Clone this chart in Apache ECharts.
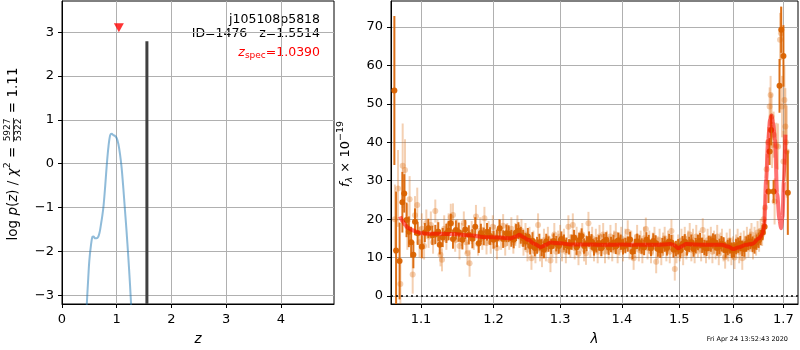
<!DOCTYPE html>
<html><head><meta charset="utf-8">
<script src="https://cdn.jsdelivr.net/npm/echarts@6/dist/echarts.min.js"></script>
<style>html,body{margin:0;padding:0;background:#fff}#c{width:800px;height:350px}</style>
</head><body><div id="c"></div>
<script>
// ---------- Left panel: log p(z) ----------
const pzZ   = [0.30,0.40,0.45,0.48,0.50,0.53,0.555,0.58,0.60,0.63,0.665,0.69,0.71,0.735,0.76,0.79,0.82,0.85,0.88,0.91,0.94,0.97,1.00,1.03,1.06,1.09,1.12,1.15,1.18,1.21,1.24,1.27,1.30,1.40];
const pzLog = [-7.0,-5.0,-3.3,-2.6,-2.2,-1.85,-1.67,-1.66,-1.70,-1.70,-1.66,-1.55,-1.40,-1.20,-0.95,-0.50,0.00,0.40,0.65,0.68,0.65,0.63,0.58,0.45,0.22,-0.10,-0.55,-1.05,-1.55,-2.10,-2.70,-3.40,-4.20,-7.0];
const zBest = 1.5514, zBestTop = 2.79;
const zSpec = 1.0390, zSpecMarkY = 3.10;
const zTicks = [0,1,2,3,4];
const pzTicks = [-3,-2,-1,0,1,2,3];

// ---------- Right panel: spectrum ----------
const lamLight = [1.066,1.070,1.073,1.076,1.079,1.082,1.085,1.089,1.092,1.095,1.098,1.101,1.104,1.107,1.110,1.113,1.116,1.119,1.122,1.126,1.128,1.131,1.134,1.137,1.140,1.143,1.146,1.149,1.152,1.155,1.158,1.161,1.163,1.166,1.169,1.172,1.175,1.178,1.181,1.184,1.187,1.190,1.193,1.196,1.199,1.202,1.205,1.208,1.211,1.214,1.217,1.220,1.223,1.226,1.229,1.232,1.235,1.238,1.241,1.244,1.247,1.250,1.253,1.256,1.259,1.262,1.266,1.269,1.272,1.275,1.278,1.281,1.285,1.288,1.291,1.294,1.297,1.300,1.303,1.306,1.309,1.313,1.316,1.320,1.323,1.326,1.329,1.332,1.335,1.338,1.341,1.345,1.348,1.351,1.354,1.357,1.360,1.363,1.366,1.369,1.372,1.375,1.378,1.381,1.384,1.387,1.390,1.393,1.396,1.399,1.402,1.406,1.410,1.413,1.416,1.420,1.423,1.426,1.429,1.432,1.435,1.438,1.441,1.444,1.447,1.450,1.453,1.456,1.459,1.462,1.465,1.468,1.471,1.474,1.477,1.480,1.483,1.486,1.489,1.492,1.495,1.498,1.501,1.504,1.507,1.510,1.513,1.516,1.519,1.522,1.525,1.528,1.531,1.534,1.537,1.540,1.543,1.546,1.549,1.552,1.555,1.558,1.561,1.564,1.567,1.570,1.573,1.576,1.579,1.582,1.585,1.588,1.591,1.594,1.597,1.600,1.603,1.606,1.609,1.612,1.615,1.618,1.621,1.624,1.627,1.630,1.633,1.636,1.639,1.642,1.645,1.648,1.651,1.654,1.657,1.660,1.663,1.666,1.669,1.672,1.674,1.676,1.677,1.680,1.682,1.6855,1.689,1.693,1.695,1.697,1.700,1.702,1.704,1.705,1.707];
const fluxLight = [20,28,3.1,33.9,32.8,18,25.2,5.6,21,23.7,14,17.5,13,19,15.5,18.5,14,22.1,16.8,10.7,9.4,17.5,15,18.5,20.5,21.1,14.5,17,13,16,19,14,11.1,8.5,16.5,15,20.7,13.5,17,15,20.2,13.8,16.5,14,18,15.5,12.5,17,15,18.3,13.5,16,15,17.5,14,16,18,15.5,17,13.5,16,12,15,9.8,14,11.5,18.5,12,10.5,14.5,12,15,9.2,13,16,11.5,14,15.5,12,14.5,11.5,18,13,18.5,12.5,15,11,14,16,12,11.1,18.9,13,15,12,14.5,11.5,15.5,13,16,11.5,14,12.5,15.5,12,14,16,11.5,13.5,15,12,14.5,16.7,12.5,14,9.8,13,15.5,12,14,11.5,15,17.4,12.5,14,11.5,13.5,15,8.9,12.5,14.5,11,13.5,15,12,14,11.5,16.9,13,7,11.5,13,12,14.5,11,15,12.5,14,16,12,14.5,11.5,15.5,13,14,12,17.2,13,11.5,14.5,12.5,15,11.5,14,12.5,15.5,11,13.5,14.5,12,10.1,13.5,12,14.5,11,12.5,10,13,14.5,11.5,13.5,9.8,14,12.5,15,13,14.5,16,12.5,15,13.5,16.5,14.5,17,16,20,23,33,40,49.3,52.3,46.7,39.3,42,24.6,39.1,38.9,66.7,68.4,49.3,35,51,44.1,40,37.6];
const errLight = [9,10,6,11,8,6,6,5,5,4.5,4,4,3.5,3.5,3,3.5,3,3,3,3,3,3.5,3,3,3.5,3,3,3,3.5,3,3,3,3,3.5,3,3,3,3,3.5,3,3,3,3,3,3,3,3,3,3,3,3,3,3,3,3,3,3,3,3,3,3,3,3,3,3,3,3,3,3,3,3,3,3,3,3,3,3,3,3,3,3,3,3,3,3,3,3,3,3,3,3,3,3,3,3,3,3,3,3,3,3,3,3,3,3,3,3,3,3,3,3,3,3,3,3,3,3,3,3,3,3,3,3,3,3,3,3,3,3,3,3,3,3,3,3,3,3,3,3,3,3,3,3,3,3,3,3,3,3,3,3,3,3,3,3,3,3,3,3,3,3,3,3,3,3,3,3,3,3,3,3,3,3,3,3,3,3,3,3,3,3,3,3,3,3,3,3,3,3,3,3,3,3,3,3,3,3.5,4,4,5,5,6,6,6,6,6,6,7,7,8,8,9,10,10,12,38,12];

const lamDark = [1.0653,1.0675,1.0720,1.0756,1.0780,1.0810,1.0840,1.0870,1.0899,1.0920,1.0955,1.1010,1.1050,1.1097,1.1150,1.1230,1.1250,1.1340,1.1400,1.1470,1.1560,1.1650,1.1740,1.1790,1.1860,1.1907,1.2000,1.2090,1.2188,1.2260,1.2330,1.2400,1.2470,1.2540,1.2610,1.2680,1.2750,1.2820,1.2900,1.2980,1.3060,1.3140,1.3220,1.3300,1.3380,1.3460,1.3540,1.3620,1.3700,1.3780,1.3860,1.3940,1.4020,1.4100,1.4180,1.4260,1.4340,1.4420,1.4500,1.4580,1.4660,1.4740,1.4820,1.4900,1.4980,1.5060,1.5140,1.5220,1.5300,1.5380,1.5460,1.5540,1.5620,1.5700,1.5780,1.5860,1.5940,1.6020,1.6100,1.6180,1.6260,1.6340,1.6420,1.6500,1.6580,1.6620,1.6697,1.6720,1.6750,1.6800,1.6920,1.6955,1.7000,1.7090];
const fluxDark = [53.5,11.8,9.1,24.4,26.7,19.8,16.7,14.0,10.7,19.3,16.3,12.8,16.5,17.6,15.8,16.7,13.3,16.3,18.9,17.2,14.6,15.9,18.0,13.7,15.5,16.7,14.6,17.6,16.3,15.0,16.5,15.8,14.2,13.0,12.5,14.0,12.0,13.5,14.3,13.0,14.0,12.8,15.2,14.5,13.0,14.8,12.5,13.8,14.2,12.7,13.9,14.5,12.8,13.5,11.5,14.2,13.0,14.6,12.4,13.8,11.9,13.5,14.2,12.0,12.8,13.6,12.5,14.0,13.1,14.4,12.6,13.7,14.3,12.5,13.6,11.8,13.0,12.0,13.2,12.4,13.5,14.2,13.0,14.5,16.5,18.0,27.2,37.6,43.2,27.2,54.7,69.3,62.5,26.9];
const errDark = [19.4,15.4,10,7.9,5,4.5,4,4,3.5,3.5,3,3,2.5,2.5,2.5,2.5,2.5,2.5,2.5,2.5,2.5,2.5,2.5,2.5,2.3,2.3,2.3,2.3,2.3,2.2,2.2,2.2,2.2,2.2,2.2,2.2,2.2,2,2,2,2,2,2,2,2,2,2,2,2,2,2,2,2,2,2,2,2,2,2,2,2,2,2,2,2,2,2,2,2,2,2,2,2,2,2,2,2,2,2,2,2,2,2,2,2,2,3,3.5,4,3,7,6,8,11];
const lamDark2 = [1.1190,1.1290,1.1370,1.1430,1.1510,1.1600,1.1700,1.1820,1.1950,1.2050,1.2140,1.2220,1.2295,1.2365,1.2435,1.2505,1.2575,1.2645,1.2715,1.2785,1.2860,1.2940,1.3020,1.3100,1.3180,1.3260,1.3340,1.3420,1.3500,1.3580,1.3660,1.3740,1.3820,1.3900,1.3980,1.4060,1.4140,1.4220,1.4300,1.4380,1.4460,1.4540,1.4620,1.4700,1.4780,1.4860,1.4940,1.5020,1.5100,1.5180,1.5260,1.5340,1.5420,1.5500,1.5580,1.5660,1.5740,1.5820,1.5900,1.5980,1.6060,1.6140,1.6220,1.6300,1.6380,1.6460,1.6540];
const fluxDark2 = [16.0,15.2,17.0,14.8,16.6,17.3,14.9,16.4,15.6,15.0,14.8,16.2,14.6,17.0,15.0,15.5,14.4,13.2,12.6,14.2,12.9,13.6,14.8,13.2,14.0,12.7,15.6,13.7,14.1,13.3,12.4,14.6,13.4,12.9,14.0,13.1,14.7,12.9,13.8,12.6,13.9,14.3,12.2,13.1,12.5,13.9,12.3,11.8,14.1,13.4,12.2,13.9,13.2,12.4,13.5,14.0,12.9,13.3,12.6,11.9,12.8,13.6,12.2,13.9,13.4,14.0,15.2];
const errDark2 = [2.5,2.5,2.5,2.5,2.5,2.5,2.5,2.4,2.3,2.3,2.3,2.2,2.2,2.2,2.2,2.2,2.2,2.2,2.2,2,2,2,2,2,2,2,2,2,2,2,2,2,2,2,2,2,2,2,2,2,2,2,2,2,2,2,2,2,2,2,2,2,2,2,2,2,2,2,2,2,2,2,2,2,2,2,2];

const modelLam  = [1.0725,1.076,1.079,1.083,1.0877,1.094,1.1008,1.11,1.125,1.145,1.165,1.19,1.21,1.2245,1.232,1.238,1.245,1.251,1.26,1.27,1.278,1.285,1.30,1.32,1.35,1.374,1.40,1.43,1.46,1.484,1.491,1.498,1.505,1.512,1.53,1.555,1.579,1.592,1.600,1.61,1.625,1.638,1.651,1.657,1.661,1.665,1.669,1.673,1.676,1.679,1.683,1.687,1.692,1.695,1.698,1.701,1.704];
const modelFlux = [20.7,19.5,18.5,17.7,17.2,16.7,16.3,16.2,16.2,16.1,15.8,15.3,15.2,15.0,15.4,15.9,15.2,14.6,13.6,12.7,13.3,13.9,13.7,13.4,13.4,13.3,13.4,13.3,13.3,13.5,13.2,12.4,13.0,13.5,13.4,13.3,13.3,12.8,12.2,12.6,13.3,13.6,15.0,16.0,18.0,30.2,40.6,46.0,47.0,45.0,40.6,26.7,19.8,17.6,20.5,30.0,42.0];
const lamTicks = [1.1,1.2,1.3,1.4,1.5,1.6,1.7];
const fluxTicks = [0,10,20,30,40,50,60,70];

// ---------- text ----------
const FONT = '"DejaVu Sans"';
const mctx = document.createElement('canvas').getContext('2d');
function fnt(p){ return (p.it ? 'italic ' : '') + p.s + 'px ' + FONT; }
function mw(p){ mctx.font = fnt(p); return mctx.measureText(p.t).width; }
function layout(pieces){
  let x = 0; const out = [];
  pieces.forEach(p => {
    if (p.frac) {
      const a = {t:p.frac[0], s:p.s}, b = {t:p.frac[1], s:p.s};
      const w = Math.max(mw(a), mw(b)) + 2;
      out.push({type:'text', x:x + w/2, y:-5.5, style:{text:a.t, font:fnt(a), fill:'#000', align:'center', verticalAlign:'middle'}});
      out.push({type:'text', x:x + w/2, y:6, style:{text:b.t, font:fnt(b), fill:'#000', align:'center', verticalAlign:'middle'}});
      out.push({type:'line', shape:{x1:x+0.5, y1:0.5, x2:x+w-0.5, y2:0.5}, style:{stroke:'#000', lineWidth:0.8}});
      x += w;
    } else {
      out.push({type:'text', x:x, y:(p.dy||0), style:{text:p.t, font:fnt(p), fill:p.c||'#000', align:'left', verticalAlign:'middle'}});
      x += mw(p);
    }
  });
  return {children: out, width: x};
}
const yLabL = layout([{t:'log ',s:13.5},{t:'p',s:13.5,it:1},{t:'(',s:13.5},{t:'z',s:13.5,it:1},{t:') / ',s:13.5},{t:'χ',s:13.5,it:1},{t:'2',s:9.5,dy:-5.5},{t:' = ',s:13.5},{frac:['5927','5322'],s:9},{t:' = 1.11',s:13.5}]);
const yLabR = layout([{t:'f',s:13,it:1},{t:'λ',s:9.5,it:1,dy:3.5},{t:' × 10',s:13},{t:'−19',s:9.5,dy:-5.5}]);
const zspecT = layout([{t:'z',s:12.5,it:1,c:'#ff0000'},{t:'spec',s:9,dy:3,c:'#ff0000'},{t:'=1.0390',s:12.5,c:'#ff0000'}]);

const minus = v => String(v).replace('-', '−');
const axCommon = {
  axisLine:{show:true, onZero:false, lineStyle:{color:'#000', width:1}},
  axisTick:{show:true, length:4, lineStyle:{color:'#000', width:1}},
  splitLine:{show:true, lineStyle:{color:'#b0b0b0', width:1}},
  nameTextStyle:{fontFamily:FONT, fontSize:13.5, fontStyle:'italic', color:'#000'}
};
const lab = {fontFamily:FONT, fontSize:13, color:'#000', margin:8};
const labX = Object.assign({}, lab, {margin:9});

function errBars(lam, flux, err, color, opacity, width, z){
  return {type:'custom', xAxisIndex:1, yAxisIndex:1, clip:true, silent:true, z:z,
    data: lam.map((l,i)=>[l, flux[i]-err[i], flux[i]+err[i]]),
    renderItem:(params, api)=>{
      const p1 = api.coord([api.value(0), api.value(1)]);
      const p2 = api.coord([api.value(0), api.value(2)]);
      return {type:'line', shape:{x1:p1[0], y1:p1[1], x2:p2[0], y2:p2[1]}, style:{stroke:color, lineWidth:width, opacity:opacity}};
    }};
}
const ORANGE = '#d96200';
const pairs = (a, b) => a.map((v,i)=>[v, b[i]]);

const chart = echarts.init(document.getElementById('c'), null, {renderer:'canvas'});
chart.setOption({
  animation:false,
  backgroundColor:'#fff',
  grid:[
    {left:62, top:1, width:272, height:303, show:true, borderColor:'#000', borderWidth:1, containLabel:false, outerBoundsMode:'none'},
    {left:391, top:1, width:407, height:303, show:true, borderColor:'#000', borderWidth:1, containLabel:false, outerBoundsMode:'none'}
  ],
  xAxis:[
    Object.assign({}, axCommon, {gridIndex:0, type:'value', min:0, max:4.97, name:'z', nameLocation:'middle', nameGap:28,
      axisTick:Object.assign({}, axCommon.axisTick, {customValues:zTicks}),
      axisLabel:Object.assign({}, labX, {customValues:zTicks, formatter:minus})}),
    Object.assign({}, axCommon, {gridIndex:1, type:'log', logBase:10, min:1.061, max:1.730, name:'λ', nameLocation:'middle', nameGap:28,
      axisTick:Object.assign({}, axCommon.axisTick, {customValues:lamTicks}),
      axisLabel:Object.assign({}, labX, {customValues:lamTicks, formatter:v=>Number(v).toFixed(1)})})
  ],
  yAxis:[
    Object.assign({}, axCommon, {gridIndex:0, type:'value', min:-3.2, max:3.71,
      axisTick:Object.assign({}, axCommon.axisTick, {customValues:pzTicks}),
      axisLabel:Object.assign({}, lab, {customValues:pzTicks, formatter:minus})}),
    Object.assign({}, axCommon, {gridIndex:1, type:'value', min:-2.1, max:76.8,
      axisTick:Object.assign({}, axCommon.axisTick, {customValues:fluxTicks}),
      axisLabel:Object.assign({}, lab, {customValues:fluxTicks, formatter:minus})})
  ],
  series:[
    {type:'line', xAxisIndex:0, yAxisIndex:0, data:pairs(pzZ, pzLog), showSymbol:false, smooth:0.3, clip:true,
      lineStyle:{color:'#1f77b4', opacity:0.5, width:2}},
    {type:'line', xAxisIndex:0, yAxisIndex:0, data:[[zBest,-3.2],[zBest,zBestTop]], showSymbol:false, clip:true,
      lineStyle:{color:'#404040', width:3}},
    {type:'scatter', xAxisIndex:0, yAxisIndex:0, data:[[zSpec, zSpecMarkY]], symbol:'triangle', symbolRotate:180, symbolSize:[10,9],
      itemStyle:{color:'#ff0000'}},
    errBars(lamLight, fluxLight, errLight, ORANGE, 0.3, 2, 2),
    {type:'scatter', xAxisIndex:1, yAxisIndex:1, data:pairs(lamLight, fluxLight), symbolSize:6, clip:true, z:3,
      itemStyle:{color:ORANGE, opacity:0.3}},
    errBars(lamDark, fluxDark, errDark, ORANGE, 0.9, 2, 4),
    errBars(lamDark2, fluxDark2, errDark2, ORANGE, 0.9, 2, 4),
    {type:'scatter', xAxisIndex:1, yAxisIndex:1, data:pairs(lamDark, fluxDark), symbolSize:6, clip:true, z:5,
      itemStyle:{color:ORANGE, opacity:0.95}},
    {type:'scatter', xAxisIndex:1, yAxisIndex:1, data:pairs(lamDark2, fluxDark2), symbolSize:6, clip:true, z:5,
      itemStyle:{color:ORANGE, opacity:0.95}},
    {type:'line', xAxisIndex:1, yAxisIndex:1, data:pairs(modelLam, modelFlux), showSymbol:false, smooth:0.3, smoothMonotone:'x', clip:true, z:6,
      lineStyle:{color:'#ff0000', opacity:0.55, width:4},
      markLine:{silent:true, symbol:'none', label:{show:false}, data:[{yAxis:0}], lineStyle:{color:'#000', type:[2,3], width:1.5, opacity:1}}}
  ],
  graphic:[
    {type:'text', x:320, y:20, style:{text:'j105108p5818', font:'12.5px '+FONT, fill:'#000', align:'right', verticalAlign:'middle'}},
    {type:'text', x:320, y:34, style:{text:'ID=1476   z=1.5514', font:'12.5px '+FONT, fill:'#000', align:'right', verticalAlign:'middle'}},
    {type:'group', x:320 - zspecT.width, y:53, children:zspecT.children},
    {type:'group', x:13, y:154 + yLabL.width/2, rotation:Math.PI/2, children:yLabL.children},
    {type:'group', x:346, y:154 + yLabR.width/2, rotation:Math.PI/2, children:yLabR.children},
    {type:'text', x:788, y:339, style:{text:'Fri Apr 24 13:52:43 2020', font:'6.5px '+FONT, fill:'#000', align:'right', verticalAlign:'middle'}}
  ]
});
</script></body></html>
